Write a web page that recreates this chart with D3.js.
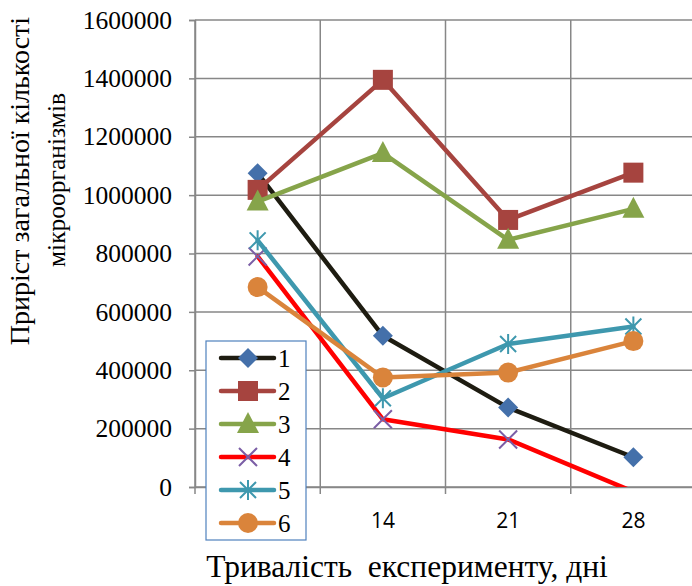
<!DOCTYPE html>
<html>
<head>
<meta charset="utf-8">
<script src="https://cdn.jsdelivr.net/npm/d3@7"></script>
<style>
  html, body { margin: 0; padding: 0; background: #fff; }
  svg { display: block; }
  .serif { font-family: "Liberation Serif", "Times New Roman", serif; }
  .sans { font-family: "Open Sans", "Liberation Sans", sans-serif; }
  .pre { white-space: pre; }
</style>
</head>
<body>
<svg id="chart" width="692" height="586"></svg>
<script>
// Experiment duration, days
const days = ["7", "14", "21", "28"];
// Growth of total microorganism count per variant
const s1 = [1075000, 518000, 272000, 102000];
const s2 = [1018000, 1395000, 915000, 1077000];
const s3 = [978000, 1144000, 847000, 953000];
const s4 = [790000, 232000, 163000, -16000];
const s5 = [845000, 304000, 490000, 550000];
const s6 = [685000, 375000, 392000, 500000];
const seriesNames = ["1", "2", "3", "4", "5", "6"];
const yTicks = [0, 200000, 400000, 600000, 800000, 1000000, 1200000, 1400000, 1600000];

const series = [
  { name: seriesNames[0], values: s1, line: "#1e1c11", fill: "#4470aa", marker: "diamond" },
  { name: seriesNames[1], values: s2, line: "#a6443f", fill: "#a6443f", marker: "square" },
  { name: seriesNames[2], values: s3, line: "#86a44a", fill: "#86a44a", marker: "triangle" },
  { name: seriesNames[3], values: s4, line: "#ff0000", fill: "#7b5ea6", marker: "x" },
  { name: seriesNames[4], values: s5, line: "#3e98ae", fill: "#3e98ae", marker: "star" },
  { name: seriesNames[5], values: s6, line: "#da843b", fill: "#da843b", marker: "circle" }
];

const svg = d3.select("#chart");
const plot = { left: 195, right: 696, top: 20, bottom: 487 };

const x = d3.scaleBand().domain(days).range([plot.left, plot.right]);
const y = d3.scaleLinear().domain([0, 1600000]).range([plot.bottom, plot.top]);
const cx = d => x(d) + x.bandwidth() / 2;

const gridColor = "#878787";

// horizontal gridlines
svg.append("g").selectAll("line").data(yTicks).join("line")
  .attr("x1", plot.left).attr("x2", plot.right)
  .attr("y1", d => y(d)).attr("y2", d => y(d))
  .attr("stroke", gridColor).attr("stroke-width", 1.5);

// vertical gridlines at category boundaries
const bounds = days.map(d => x(d)).concat([plot.right]);
svg.append("g").selectAll("line").data(bounds).join("line")
  .attr("x1", d => d).attr("x2", d => d)
  .attr("y1", plot.top).attr("y2", plot.bottom)
  .attr("stroke", gridColor).attr("stroke-width", 1.5);

// y axis
const yAxis = svg.append("g").attr("transform", `translate(${plot.left},0)`)
  .call(d3.axisLeft(y).tickValues(yTicks).tickFormat(d3.format("d")).tickSize(6).tickPadding(17));
yAxis.attr("font-family", null).attr("font-size", null);
yAxis.select(".domain").attr("stroke", gridColor).attr("stroke-width", 1.5);
yAxis.selectAll(".tick line").attr("stroke", gridColor).attr("stroke-width", 1.5);
yAxis.selectAll("text").attr("class", "serif")
  .style("font-size", "25.5px").attr("fill", "#000");

// x axis
const xAxis = svg.append("g").attr("transform", `translate(0,${plot.bottom})`)
  .call(d3.axisBottom(x).tickSize(0).tickPadding(26));
xAxis.attr("font-family", null).attr("font-size", null);
xAxis.select(".domain").attr("stroke", gridColor).attr("stroke-width", 1.5);
xAxis.selectAll("text").attr("class", "sans")
  .style("font-size", "21px").attr("fill", "#000");
xAxis.append("g").selectAll("line").data(bounds).join("line")
  .attr("x1", d => d).attr("x2", d => d).attr("y1", 0).attr("y2", 7)
  .attr("stroke", gridColor).attr("stroke-width", 1.5);

// clip the data to the plot area
svg.append("clipPath").attr("id", "plotClip").append("rect")
  .attr("x", plot.left).attr("y", plot.top)
  .attr("width", plot.right - plot.left).attr("height", plot.bottom - plot.top);

function drawMarker(g, type, color) {
  if (type === "diamond") {
    g.append("path").attr("d", "M0,-10L10,0L0,10L-10,0Z").attr("fill", color);
  } else if (type === "square") {
    g.append("rect").attr("x", -10).attr("y", -10).attr("width", 20).attr("height", 20).attr("fill", color);
  } else if (type === "triangle") {
    g.append("path").attr("d", "M0,-12L11,9L-11,9Z").attr("fill", color);
  } else if (type === "circle") {
    g.append("circle").attr("r", 10).attr("fill", color);
  } else if (type === "x") {
    g.append("path").attr("d", "M-9,-9L9,9M-9,9L9,-9").attr("stroke", color).attr("stroke-width", 2).attr("fill", "none");
  } else if (type === "star") {
    g.append("path").attr("d", "M-8,-8L8,8M-8,8L8,-8M0,-10L0,10")
      .attr("stroke", color).attr("stroke-width", 2).attr("fill", "none");
  }
}

const line = d3.line().x((v, i) => cx(days[i])).y(v => y(v));
const dataLayer = svg.append("g").attr("clip-path", "url(#plotClip)");
const [yMin, yMax] = y.domain();

series.forEach(s => {
  const g = dataLayer.append("g");
  g.append("path").datum(s.values).attr("d", line)
    .attr("fill", "none").attr("stroke", s.line).attr("stroke-width", 4.5)
    .attr("stroke-linejoin", "round").attr("stroke-linecap", "round");
  s.values.forEach((v, i) => {
    // points outside the axis range get no marker
    if (v < yMin || v > yMax) return;
    const m = g.append("g").attr("transform", `translate(${cx(days[i])},${y(v)})`);
    drawMarker(m, s.marker, s.fill);
  });
});

// legend
const legend = svg.append("g");
legend.append("rect").attr("x", 206).attr("y", 341).attr("width", 100).attr("height", 199)
  .attr("fill", "#fff").attr("stroke", "#4f81bd").attr("stroke-width", 1.2);
series.forEach((s, i) => {
  const ly = 358 + i * 33;
  const g = legend.append("g");
  g.append("line").attr("x1", 221).attr("x2", 274).attr("y1", ly).attr("y2", ly)
    .attr("stroke", s.line).attr("stroke-width", 4.5).attr("stroke-linecap", "round");
  const m = g.append("g").attr("transform", `translate(248,${ly})`);
  drawMarker(m, s.marker, s.fill);
  g.append("text").attr("class", "serif").attr("x", 278).attr("y", ly + 9).text(s.name)
    .style("font-size", "25px").attr("fill", "#000");
});

// axis titles
svg.append("text").attr("class", "serif").attr("transform", "translate(29,181) rotate(-90)")
  .attr("text-anchor", "middle").style("font-size", "28px").attr("fill", "#000")
  .text("Приріст загальної кількості");
svg.append("text").attr("class", "serif").attr("transform", "translate(65,180) rotate(-90)")
  .attr("text-anchor", "middle").style("font-size", "25.5px").attr("fill", "#000")
  .text("мікроорганізмів");
svg.append("text").attr("class", "serif pre").attr("x", 407).attr("y", 577)
  .attr("text-anchor", "middle").style("font-size", "31.5px").attr("fill", "#000")
  .text("Тривалість  експерименту, дні");
</script>
</body>
</html>
